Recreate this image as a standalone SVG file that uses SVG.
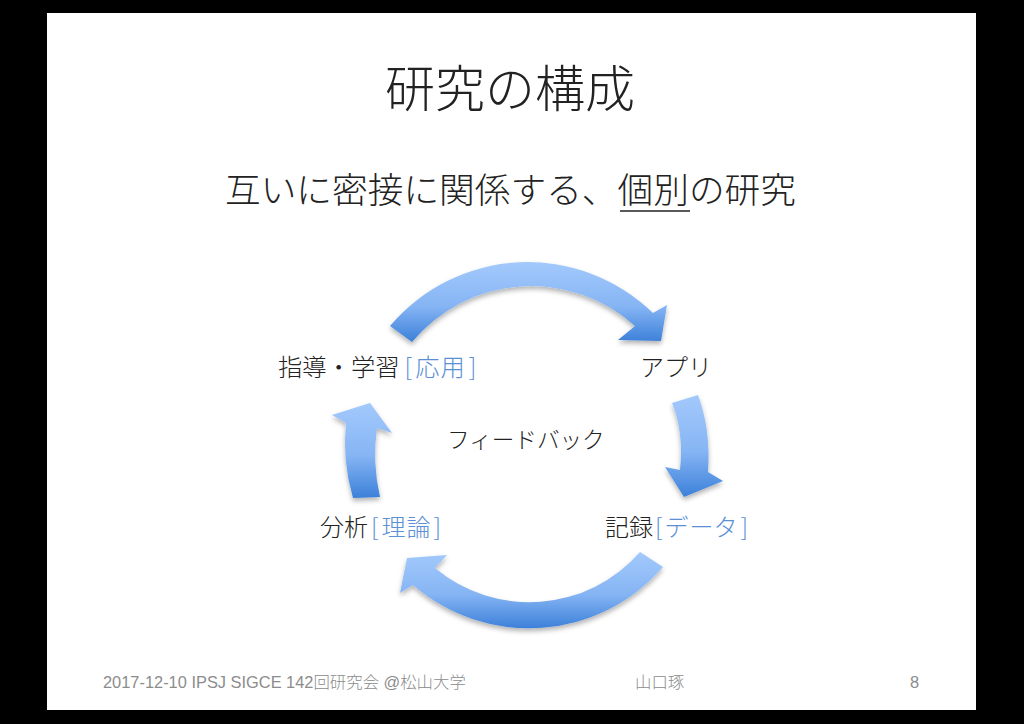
<svg xmlns="http://www.w3.org/2000/svg" width="1024" height="724" viewBox="0 0 1024 724">
<defs>
<linearGradient id="blue" x1="0" y1="0" x2="0" y2="1">
<stop offset="0" stop-color="#a3c9fc"/>
<stop offset="0.55" stop-color="#86b5f4"/>
<stop offset="1" stop-color="#3c80d9"/>
</linearGradient>
<filter id="shadow" x="-20%" y="-20%" width="140%" height="150%">
<feDropShadow dx="0" dy="3" stdDeviation="2.5" flood-color="#000" flood-opacity="0.3"/>
</filter>
<style>
.jp{font-family:"Noto Sans CJK JP","Noto Sans",sans-serif;font-weight:300;fill:#222}
.br{fill:#5b8fd6}
.ft{font-family:"Liberation Sans","Noto Sans CJK JP",sans-serif;font-weight:300;fill:#8c8c8c;font-size:16.4px}
.arrow{fill:url(#blue);filter:url(#shadow)}
</style>
</defs>
<rect x="0" y="0" width="1024" height="724" fill="#000"/>
<rect x="47" y="13" width="929" height="697" fill="#fff"/>
<g id="title">
<text class="jp" x="510" y="107" font-size="50" text-anchor="middle">研究の構成</text>
</g>
<g id="subtitle">
<text class="jp" x="225" y="203" font-size="35.7">互いに密接に関係する、個別の研究</text>
<line x1="620" y1="211" x2="690" y2="211" stroke="#222" stroke-width="1.5"/>
</g>
<g id="connectors">
<path class="arrow" d="M390,326 A180 180 0 0 1 653,313 L667,305 L661,341 L618,340 L635,326 A155 155 0 0 0 412,342 Z"/>
<path class="arrow" d="M672,403 L698,395 Q711,430 708,472 L723,481 L684,497 L665,467 L680,470 Q684,432 672,403 Z"/>
<path class="arrow" d="M640,552 L663,567 A177 177 0 0 1 413,585 L400,593 L407,558 L447,555 L435,568 A147 147 0 0 0 640,552 Z"/>
<path class="arrow" d="M353,498 Q342,460 346,423 L332,415 L370,403 L392,433 L377,428 Q372,462 380,497 Z"/>
</g>
<g id="node-apply">
<text class="jp" x="278" y="376" font-size="24.3">指導・学習<tspan class="br" dx="5">[</tspan><tspan class="br" dx="3">応</tspan><tspan class="br" dx="1">用</tspan><tspan class="br" dx="4">]</tspan></text>
</g>
<g id="node-app">
<text class="jp" x="640" y="376" font-size="24">アプリ</text>
</g>
<g id="node-feedback">
<text class="jp" x="447" y="448" font-size="22.6">フィードバック</text>
</g>
<g id="node-theory">
<text class="jp" x="320" y="536" font-size="24">分析<tspan class="br" dx="3">[</tspan><tspan class="br" dx="3">理</tspan><tspan class="br" dx="1">論</tspan><tspan class="br" dx="3">]</tspan></text>
</g>
<g id="node-data">
<text class="jp" x="605" y="536" font-size="24">記録<tspan class="br" dx="2">[</tspan><tspan class="br" dx="2">デ</tspan><tspan class="br" dx="1">ー</tspan><tspan class="br">タ</tspan><tspan class="br" dx="3">]</tspan></text>
</g>
<g id="footer">
<text class="ft" x="103" y="688">2017-12-10 IPSJ SIGCE 142回研究会 @松山大学</text>
<text class="ft" x="635" y="688">山口琢</text>
<text class="ft" x="910" y="688">8</text>
</g>
</svg>
